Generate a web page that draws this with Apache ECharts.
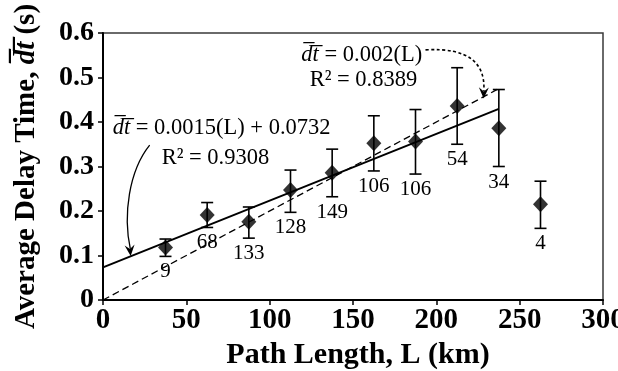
<!DOCTYPE html>
<html>
<head>
<meta charset="utf-8">
<script src="https://cdn.jsdelivr.net/npm/echarts@6/dist/echarts.min.js"></script>
<style>
  html, body { margin: 0; padding: 0; background: #fff; }
  #chart { width: 618px; height: 371px; }
</style>
</head>
<body>
<div id="chart"></div>
<script>
// Bin centres of path length (km)
const pathLength = [37.5, 62.5, 87.5, 112.5, 137.5, 162.5, 187.5, 212.5, 237.5, 262.5];
// Mean delay time per bin (s)
const meanDelay = [0.118, 0.191, 0.176, 0.247, 0.286, 0.352, 0.356, 0.436, 0.386, 0.215];
// Lower / upper ends of the error bars (s)
const barLow  = [0.098, 0.163, 0.139, 0.197, 0.232, 0.290, 0.283, 0.350, 0.300, 0.161];
const barHigh = [0.137, 0.219, 0.209, 0.292, 0.339, 0.414, 0.428, 0.522, 0.473, 0.267];
// Number of samples in each bin
const sampleCount = ['9', '68', '133', '128', '149', '106', '106', '54', '34', '4'];

// Axis ticks
const xTicks = [0, 50, 100, 150, 200, 250, 300];
const yTicks = [0, 0.1, 0.2, 0.3, 0.4, 0.5, 0.6];

// Linear fits: dt = slope * L + intercept
const fitFull = { slope: 0.0015, intercept: 0.0732, r2: '0.9308' };
const fitOrigin = { slope: 0.002, intercept: 0, r2: '0.8389' };
const fitRange = [0, 237.5];

const SERIF = '"Liberation Serif", "Times New Roman", serif';
const DT = 'd\u0305t\u0305';

function fitLine(fit) {
  return fitRange.map(L => [L, +(fit.slope * L + fit.intercept).toFixed(5)]);
}

const chart = echarts.init(document.getElementById('chart'), null, { renderer: 'canvas' });

const option = {
  animation: false,
  backgroundColor: '#fff',
  grid: {
    left: 103, right: 15, top: 33, bottom: 71,
    outerBoundsMode: 'none',
    containLabel: false,
    show: true, borderColor: '#3a3a3a', borderWidth: 1.5, backgroundColor: 'transparent'
  },
  xAxis: {
    type: 'value',
    min: xTicks[0], max: xTicks[xTicks.length - 1], interval: xTicks[1] - xTicks[0],
    axisLine: { show: true, lineStyle: { color: '#000', width: 2 } },
    axisTick: { show: true, length: 5, lineStyle: { color: '#000', width: 1.5 } },
    splitLine: { show: false },
    axisLabel: { color: '#000', fontFamily: SERIF, fontWeight: 'bold', fontSize: 29, margin: 6, hideOverlap: false },
    name: 'Path Length, L (km)',
    nameLocation: 'middle',
    nameGap: 40,
    nameTextStyle: { color: '#000', fontFamily: SERIF, fontWeight: 'bold', fontSize: 30, padding: [0, 0, 0, 10] }
  },
  yAxis: {
    type: 'value',
    min: yTicks[0], max: yTicks[yTicks.length - 1], interval: 0.1,
    axisLine: { show: true, lineStyle: { color: '#000', width: 2 } },
    axisTick: { show: true, length: 5, lineStyle: { color: '#000', width: 1.5 } },
    splitLine: { show: false },
    axisLabel: {
      color: '#000', fontFamily: SERIF, fontWeight: 'bold', fontSize: 28, margin: 9,
      formatter: v => (v === 0 ? '0' : v.toFixed(1))
    },
    name: 'Average Delay Time, {i|' + DT + '} (s)',
    nameLocation: 'middle',
    nameGap: 62,
    nameTextStyle: {
      color: '#000', fontFamily: SERIF, fontWeight: 'bold', fontSize: 29,
      rich: { i: { fontFamily: SERIF, fontWeight: 'bold', fontStyle: 'italic', fontSize: 29, color: '#000' } }
    }
  },
  series: [
    {
      name: 'fit-origin',
      type: 'line',
      data: fitLine(fitOrigin),
      symbol: 'none',
      lineStyle: { color: '#000', width: 1.3, type: [7, 4] },
      z: 2
    },
    {
      name: 'fit-full',
      type: 'line',
      data: fitLine(fitFull),
      symbol: 'none',
      lineStyle: { color: '#000', width: 2 },
      z: 2
    },
    {
      name: 'error',
      type: 'custom',
      data: pathLength.map((L, i) => [L, barLow[i], barHigh[i]]),
      renderItem: function (params, api) {
        const L = api.value(0);
        const lo = api.coord([L, api.value(1)]);
        const hi = api.coord([L, api.value(2)]);
        const cap = 6;
        const st = { stroke: '#000', lineWidth: 1.6 };
        return {
          type: 'group',
          children: [
            { type: 'line', shape: { x1: lo[0], y1: lo[1], x2: hi[0], y2: hi[1] }, style: st },
            { type: 'line', shape: { x1: hi[0] - cap, y1: hi[1], x2: hi[0] + cap, y2: hi[1] }, style: st },
            { type: 'line', shape: { x1: lo[0] - cap, y1: lo[1], x2: lo[0] + cap, y2: lo[1] }, style: st },
            {
              type: 'text',
              style: {
                text: sampleCount[params.dataIndex],
                x: lo[0], y: lo[1] + 5,
                align: 'center', verticalAlign: 'top',
                font: '21px ' + SERIF, fill: '#000'
              }
            }
          ]
        };
      },
      z: 3
    },
    {
      name: 'mean',
      type: 'scatter',
      data: pathLength.map((L, i) => [L, meanDelay[i]]),
      symbol: 'diamond',
      symbolSize: [15, 16],
      itemStyle: { color: '#000' },
      z: 4
    }
  ]
};

chart.setOption(option);

// Annotations anchored in data units
const px = (L, v) => chart.convertToPixel({ gridIndex: 0 }, [L, v]);

function eqText(L, v, text) {
  const p = px(L, v);
  return {
    type: 'text',
    x: p[0], y: p[1],
    style: {
      text: text,
      font: '22.5px ' + SERIF,
      fill: '#000',
      verticalAlign: 'middle',
      align: 'left',
      rich: {
        i: { fontFamily: SERIF, fontSize: 22.5, fontStyle: 'italic', fill: '#000' },
        n: { fontFamily: SERIF, fontSize: 22.5, fill: '#000' }
      }
    },
    z: 10
  };
}

function arrowHead(tip, dir) {
  // dir: unit vector pointing toward the tip
  const len = 11, half = 5, notch = 7;
  const nx = -dir[1], ny = dir[0];
  const bx = tip[0] - dir[0] * len, by = tip[1] - dir[1] * len;
  const mx = tip[0] - dir[0] * notch, my = tip[1] - dir[1] * notch;
  return {
    type: 'polygon',
    shape: { points: [tip, [bx + nx * half, by + ny * half], [mx, my], [bx - nx * half, by - ny * half]] },
    style: { fill: '#000' },
    z: 10
  };
}

function curve(a, c1, c2, b, dotted) {
  const pa = px(a[0], a[1]), p1 = px(c1[0], c1[1]), p2 = px(c2[0], c2[1]), pb = px(b[0], b[1]);
  return {
    type: 'bezierCurve',
    shape: { x1: pa[0], y1: pa[1], cpx1: p1[0], cpy1: p1[1], cpx2: p2[0], cpy2: p2[1], x2: pb[0], y2: pb[1] },
    style: { stroke: '#000', lineWidth: dotted ? 1.6 : 1.3, fill: null, lineDash: dotted ? [3, 2.5] : null },
    z: 10
  };
}

function tipDir(from, to) {
  const a = px(from[0], from[1]), b = px(to[0], to[1]);
  const dx = b[0] - a[0], dy = b[1] - a[1];
  const d = Math.hypot(dx, dy);
  return [b, [dx / d, dy / d]];
}

const t1 = tipDir([15.0, 0.160], [16.6, 0.099]);
const t2 = tipDir([228.6, 0.500], [228.4, 0.453]);

chart.setOption({
  graphic: [
    eqText(5.8, 0.387, '{i|' + DT + '}{n| = ' + fitFull.slope + '(L) + ' + fitFull.intercept + '}'),
    eqText(35.2, 0.319, 'R\u00B2 = ' + fitFull.r2),
    eqText(119, 0.551, '{i|' + DT + '}{n| = ' + fitOrigin.slope + '(L)}'),
    eqText(124, 0.494, 'R\u00B2 = ' + fitOrigin.r2),
    curve([28.0, 0.348], [15.5, 0.290], [12.0, 0.190], [16.4, 0.115], false),
    arrowHead(t1[0], t1[1]),
    curve([193.5, 0.562], [220.0, 0.568], [229.5, 0.530], [228.5, 0.470], true),
    arrowHead(t2[0], t2[1])
  ]
});
</script>
</body>
</html>
